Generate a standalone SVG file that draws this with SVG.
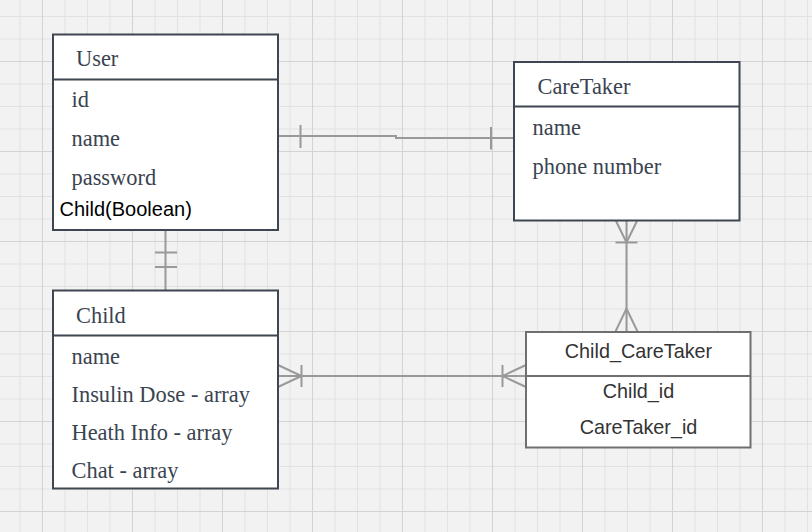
<svg xmlns="http://www.w3.org/2000/svg" width="812" height="532" viewBox="0 0 812 532">
  <defs>
    <pattern id="grid" patternUnits="userSpaceOnUse" x="42" y="61" width="90" height="90">
      <rect width="90" height="90" fill="#f2f2f2"/>
      <rect x="22.5" y="0" width="1" height="90" fill="#e2e2e2"/>
      <rect x="45" y="0" width="1" height="90" fill="#e2e2e2"/>
      <rect x="67.5" y="0" width="1" height="90" fill="#e2e2e2"/>
      <rect x="0" y="22.5" width="90" height="1" fill="#e2e2e2"/>
      <rect x="0" y="45" width="90" height="1" fill="#e2e2e2"/>
      <rect x="0" y="67.5" width="90" height="1" fill="#e2e2e2"/>
      <rect x="0" y="0" width="1" height="90" fill="#d3d3d3"/>
      <rect x="0" y="0" width="90" height="1" fill="#d3d3d3"/>
    </pattern>
  </defs>
  <style>
    .box { fill: #ffffff; stroke: #3d4651; stroke-width: 2; }
    .box2 { fill: #ffffff; stroke: #6f6f6f; stroke-width: 2; }
    .div { stroke: #3d4651; stroke-width: 2; }
    .div2 { stroke: #6f6f6f; stroke-width: 2; }
    .serif { font-family: "Liberation Serif", "Times New Roman", serif; font-size: 22.4px; fill: #3a4450; }
    .sans { font-family: "Liberation Sans", Arial, sans-serif; font-size: 20px; fill: #000000; }
    .sans2 { font-family: "Liberation Sans", Arial, sans-serif; font-size: 19.8px; fill: #333333; text-anchor: middle; }
    .conn { fill: none; stroke: #999999; stroke-width: 2; }
  </style>
  <rect width="812" height="532" fill="url(#grid)"/>

  <g id="connectors">
    <!-- User - CareTaker -->
    <path class="conn" d="M278 136 H396 V138 H514"/>
    <path class="conn" d="M300.5 125 V148"/>
    <path class="conn" d="M491 127 V149.5"/>
    <!-- User - Child -->
    <path class="conn" d="M165.5 230 V290"/>
    <path class="conn" d="M155 252.5 H177 M155 267 H177"/>
    <!-- CareTaker - Child_CareTaker -->
    <path class="conn" d="M626.5 221 V332"/>
    <path class="conn" d="M616 221 L626.5 242.5 L637 221 M615.5 242.5 H637.5"/>
    <path class="conn" d="M615.5 331.5 L626.5 308.5 L637.5 331.5"/>
    <!-- Child - Child_CareTaker -->
    <path class="conn" d="M278 376 H526"/>
    <path class="conn" d="M278 365 L301.5 376 L278 387 M301.5 365 V387"/>
    <path class="conn" d="M526 365 L502.5 376 L526 387 M502.5 365 V387"/>
  </g>

  <g id="user">
    <rect class="box" x="53" y="34.5" width="225" height="195.5"/>
    <line class="div" x1="53" y1="79.5" x2="278" y2="79.5"/>
    <text class="serif" x="76" y="66">User</text>
    <text class="serif" x="71.5" y="107">id</text>
    <text class="serif" x="71.5" y="146">name</text>
    <text class="serif" x="71.5" y="184.5">password</text>
    <text class="sans" x="59.5" y="216">Child(Boolean)</text>
  </g>

  <g id="caretaker">
    <rect class="box" x="514" y="62" width="225.5" height="158.5"/>
    <line class="div" x1="514" y1="106.5" x2="739.5" y2="106.5"/>
    <text class="serif" x="537.5" y="93.5">CareTaker</text>
    <text class="serif" x="532.5" y="135">name</text>
    <text class="serif" x="532.5" y="174">phone number</text>
  </g>

  <g id="child">
    <rect class="box" x="53" y="290.5" width="225" height="198"/>
    <line class="div" x1="53" y1="335.5" x2="278" y2="335.5"/>
    <text class="serif" x="76" y="322.5">Child</text>
    <text class="serif" x="71.5" y="364">name</text>
    <text class="serif" x="71.5" y="402">Insulin Dose - array</text>
    <text class="serif" x="71.5" y="440">Heath Info - array</text>
    <text class="serif" x="71.5" y="478">Chat - array</text>
  </g>

  <g id="child_caretaker">
    <rect class="box2" x="526" y="332" width="224.5" height="115.5"/>
    <line class="div2" x1="526" y1="376" x2="750.5" y2="376"/>
    <text class="sans2" x="638.5" y="358">Child_CareTaker</text>
    <text class="sans2" x="638.5" y="398">Child_id</text>
    <text class="sans2" x="638.5" y="434">CareTaker_id</text>
  </g>
</svg>
